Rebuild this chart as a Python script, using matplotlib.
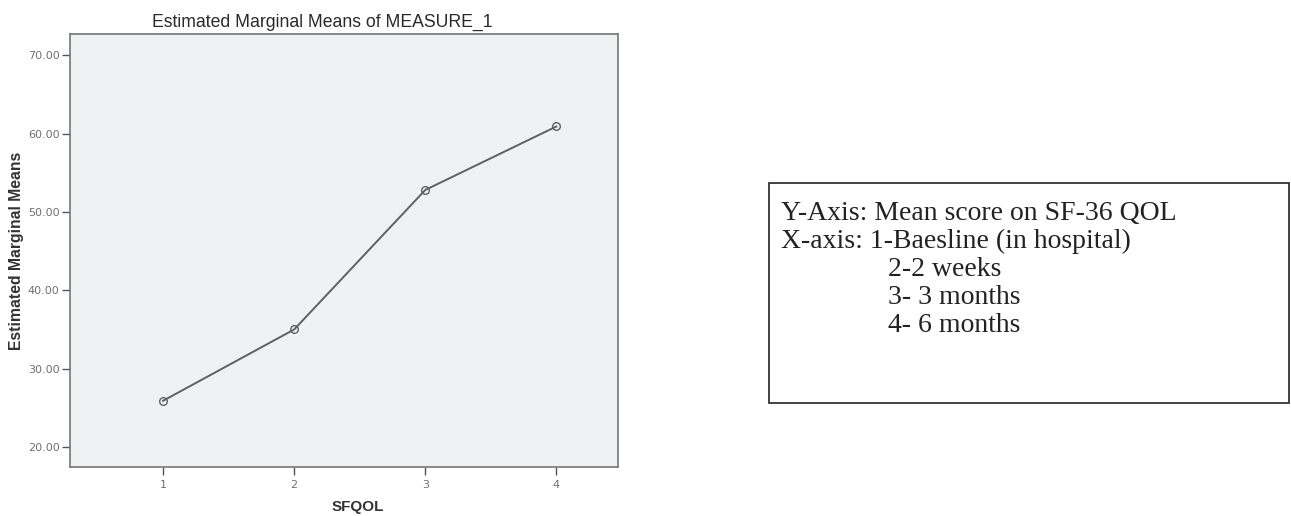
import matplotlib
matplotlib.use("Agg")
import matplotlib.pyplot as plt
from matplotlib.patches import Rectangle

# Estimated marginal means of the SF-36 QOL score at each time point
time_points = [1, 2, 3, 4]
mean_scores = [25.9, 35.0, 52.8, 60.9]
y_ticks = [20, 30, 40, 50, 60, 70]
y_tick_labels = ["20.00", "30.00", "40.00", "50.00", "60.00", "70.00"]
x_tick_labels = ["1", "2", "3", "4"]

note_lines = [
    "Y-Axis: Mean score on SF-36 QOL",
    "X-axis: 1-Baesline (in hospital)",
    "2-2 weeks",
    "3- 3 months",
    "4- 6 months",
]

W, H = 1291, 516
fig = plt.figure(figsize=(W / 100, H / 100), dpi=100)
fig.patch.set_facecolor("white")

# Plot area
ax = fig.add_axes([70 / W, 1 - 467 / H, (618 - 70) / W, (467 - 34) / H])
ax.set_facecolor("#f0f1f3")
ax.plot(time_points, mean_scores, color="#606060", lw=1.4,
        marker="o", markersize=5.5, markerfacecolor="none",
        markeredgecolor="#606060", markeredgewidth=1.0)
ax.set_xlim(0.29, 4.47)
ax.set_ylim(17.45, 72.7)
ax.set_xticks(time_points)
ax.set_xticklabels(x_tick_labels)
ax.set_yticks(y_ticks)
ax.set_yticklabels(y_tick_labels)
ax.tick_params(axis="both", direction="out", length=6, width=1.0, pad=1.5,
               color="#555555", labelcolor="#707070", labelsize=8)
ax.tick_params(axis="x", pad=3)
for s in ["left", "bottom", "top", "right"]:
    ax.spines[s].set_color("#777777")
    ax.spines[s].set_linewidth(1.2)

ax.set_title("Estimated Marginal Means of MEASURE_1", fontsize=12.7,
             family="Liberation Sans", color="#2a2a2a", pad=5, x=0.46)
ax.set_ylabel("Estimated Marginal Means", fontsize=11.3, fontweight="bold",
              family="Liberation Sans", color="#333333")
ax.yaxis.set_label_coords(-(70 - 17) / 548, 0.5)
ax.yaxis.label.set_va("center")
ax.set_xlabel("SFQOL", fontsize=11, fontweight="bold",
              family="Liberation Sans", color="#333333")
ax.xaxis.set_label_coords((358 - 70) / 548, -(507 - 467) / 433)
ax.xaxis.label.set_va("center")

# Legend-style note box
fig.patches.append(Rectangle((769 / W, 1 - 403 / H), (1289 - 769) / W,
                             (403 - 183) / H, transform=fig.transFigure,
                             facecolor="white", edgecolor="#222222", lw=1.2))
line_y = [213, 241, 269, 297, 325]
line_x = [781, 781, 888, 888, 888]
for txt, x, y in zip(note_lines, line_x, line_y):
    fig.text(x / W, 1 - y / H, txt, fontsize=20, family="Liberation Serif",
             color="#222222", va="center", ha="left")

fig.savefig("out.png", dpi=100, facecolor="white")
